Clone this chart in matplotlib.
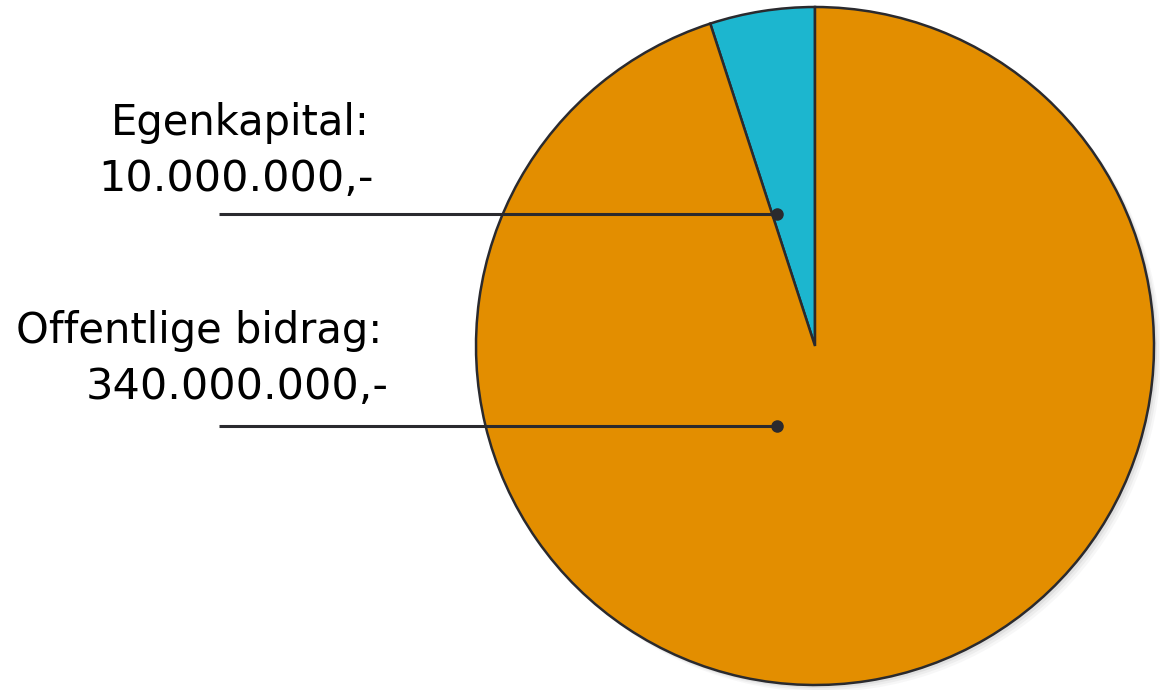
"""Pie chart: financing split (Egenkapital vs Offentlige bidrag)."""
import matplotlib.pyplot as plt
from matplotlib.patches import Circle

# data
labels = ["Egenkapital:", "Offentlige bidrag:"]
amounts = [10_000_000, 340_000_000]
# wedge sizes as drawn in the source picture (percent of the circle)
shares = [5, 95]
colors = ["#1cb6cf", "#e38e00"]

EDGE = "#2a2a2e"


def fmt_nok(value: int) -> str:
    return f"{value:,}".replace(",", ".") + ",-"


fig = plt.figure(figsize=(11.6, 6.9), dpi=100)
ax = fig.add_axes([0, 0, 1, 1])

center = (815, 344)
radius = 339

# soft drop shadow at lower right
for off, alpha in [(7, 0.06), (5, 0.08), (3, 0.12)]:
    ax.add_patch(Circle((center[0] + off, center[1] - off), radius,
                        facecolor="#7a7a80", edgecolor="none", alpha=alpha, zorder=0))

ax.pie(shares, colors=colors, startangle=90, counterclock=True,
       center=center, radius=radius,
       wedgeprops=dict(edgecolor=EDGE, linewidth=1.8, zorder=1))

# leader lines with dots, and two-line labels
label_pos = [(240, 135), (199, 343)]   # (x centre, baseline y) of first text line, from top
value_x = [236, 237]
line_y = [214, 426]
for name, amount, (lx, ly), vx, yy in zip(labels, amounts, label_pos, value_x, line_y):
    ax.text(lx, 690 - ly, name, fontsize=30, ha="center", va="baseline", color="black")
    ax.text(vx, 690 - ly - 56, fmt_nok(amount), fontsize=31, ha="center",
            va="baseline", color="black")
    ax.plot([219, 777], [690 - yy, 690 - yy], color=EDGE, lw=2.2, zorder=3,
            solid_capstyle="butt")
    ax.plot(777, 690 - yy, "o", color=EDGE, ms=8, zorder=4)

ax.set_xlim(0, 1160)
ax.set_ylim(0, 690)
ax.set_aspect("equal")
ax.axis("off")

fig.savefig("out.png", dpi=100, facecolor="white")
